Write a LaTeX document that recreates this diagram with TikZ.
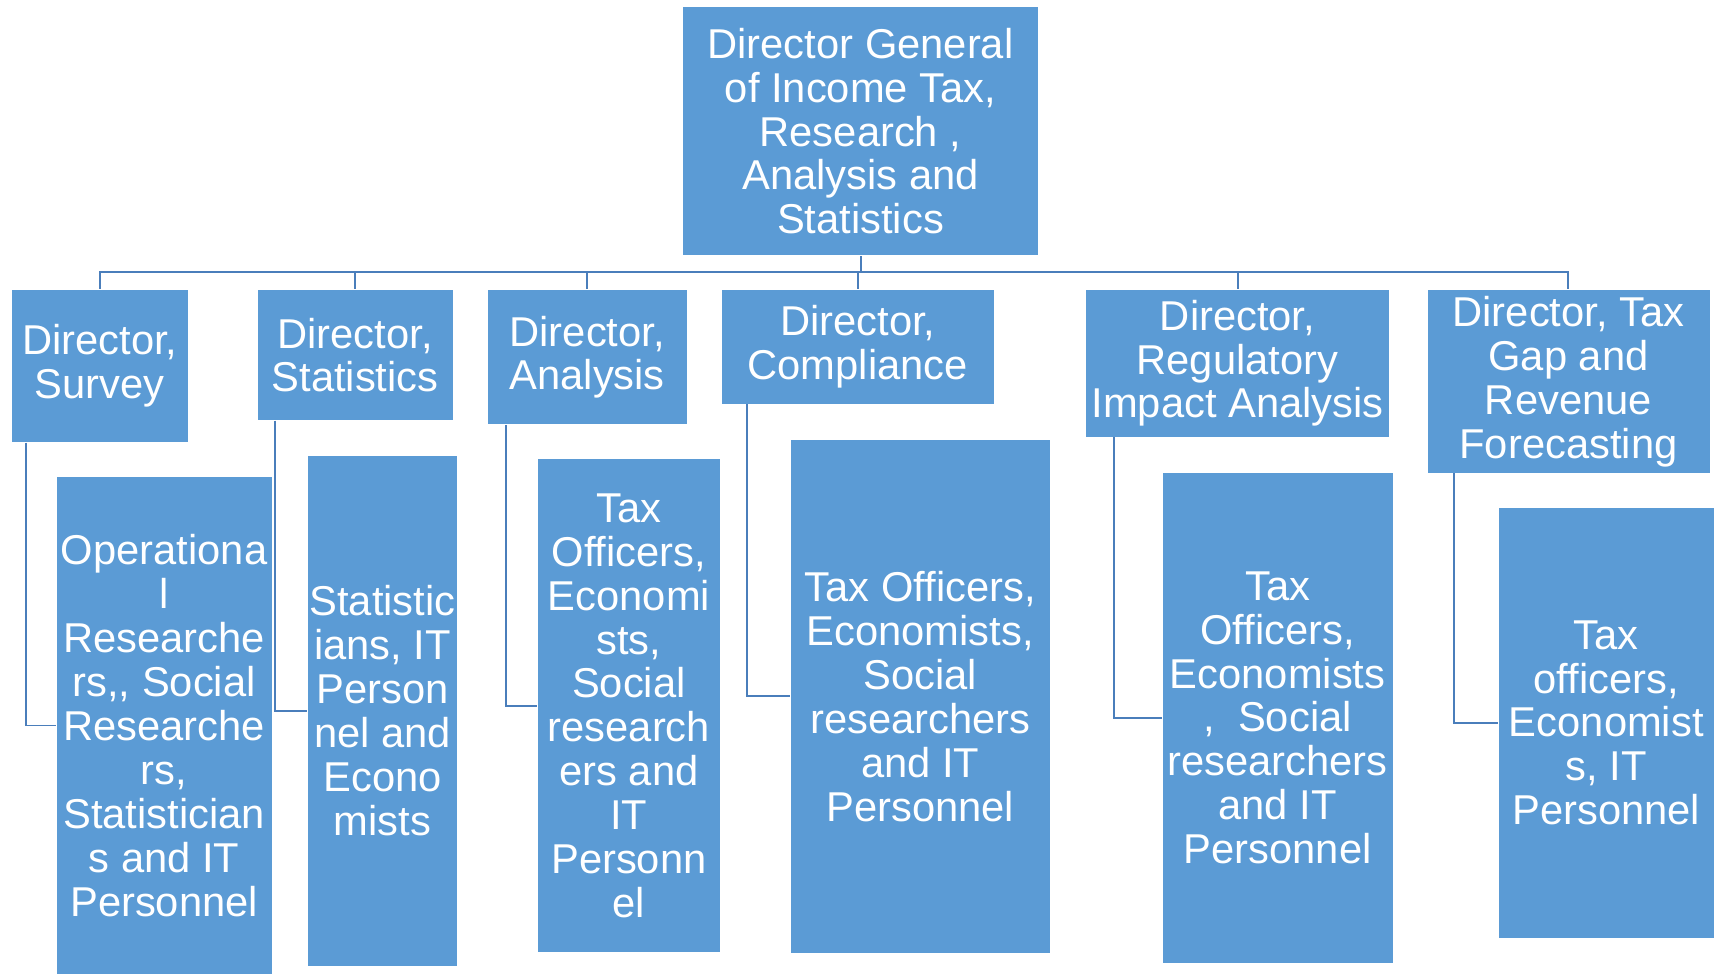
\documentclass[tikz,border=0pt]{standalone}
\usepackage{fontspec}
\setmainfont{Liberation Sans}
\definecolor{boxblue}{HTML}{5B9BD5}
\definecolor{lineblue}{HTML}{4A7EBB}
\begin{document}
\begin{tikzpicture}[x=1pt,y=-1pt,
  box/.style={fill=boxblue, draw=white, line width=0.6pt, inner sep=0pt, align=center,
    text=white, font=\fontsize{38}{40}\selectfont},
  conn/.style={draw=lineblue, line width=1.8pt}]
\useasboundingbox (0,0) rectangle (1568,888);
% top
\node[box, minimum width=324, minimum height=227] (top) at (784,119.5)
  {Director General\\of Income Tax,\\Research ,\\Analysis and\\Statistics};
% directors
\node[box, minimum width=162, minimum height=139] (d1) at (91,333.5) {Director,\\Survey};
\node[box, minimum width=179, minimum height=119] (d2) at (323.5,323.5) {Director,\\Statistics};
\node[box, minimum width=182, minimum height=123] (d3) at (535,325.5) {Director,\\Analysis};
\node[box, minimum width=249, minimum height=104] (d4) at (781.5,316) {Director,\\Compliance};
\node[box, minimum width=277, minimum height=134] (d5) at (1127.5,331) {Director,\\Regulatory\\Impact Analysis};
\node[box, minimum width=258, minimum height=167] (d6) at (1429,347.5) {Director, Tax\\Gap and\\Revenue\\Forecasting};
% staff
\node[box, minimum width=197, minimum height=454] (s1) at (149.5,661)
  {Operationa\\l\\Researche\\rs,{}, Social\\Researche\\rs,\\Statistician\\s and IT\\Personnel};
\node[box, minimum width=137, minimum height=465] (s2) at (348.5,647.5)
  {Statistic\\ians, IT\\Person\\nel and\\Econo\\mists};
\node[box, minimum width=166, minimum height=450] (s3) at (573,643)
  {Tax\\Officers,\\Economi\\sts,\\Social\\research\\ers and\\IT\\Personn\\el};
\node[box, minimum width=237, minimum height=469] (s4) at (838.5,634.5)
  {Tax Officers,\\Economists,\\Social\\researchers\\and IT\\Personnel};
\node[box, minimum width=210, minimum height=448] (s5) at (1164,654)
  {Tax\\Officers,\\Economists\\,\ \ Social\\researchers\\and IT\\Personnel};
\node[box, minimum width=197, minimum height=393] (s6) at (1463.5,658.5)
  {Tax\\officers,\\Economist\\s, IT\\Personnel};
% bus connectors
\foreach \d in {d1,d2,d3,d4,d5,d6}
  \draw[conn] (top.south) -- ++(0,14.5) -| (\d.north);
% staff connectors
\draw[conn] ([xshift=14pt]d1.south west) |- (s1.west);
\draw[conn] ([xshift=17pt]d2.south west) |- (s2.west);
\draw[conn] ([xshift=17pt]d3.south west) |- (s3.west);
\draw[conn] ([xshift=24pt]d4.south west) |- (s4.west);
\draw[conn] ([xshift=26pt]d5.south west) |- (s5.west);
\draw[conn] ([xshift=25pt]d6.south west) |- (s6.west);
\end{tikzpicture}
\end{document}
